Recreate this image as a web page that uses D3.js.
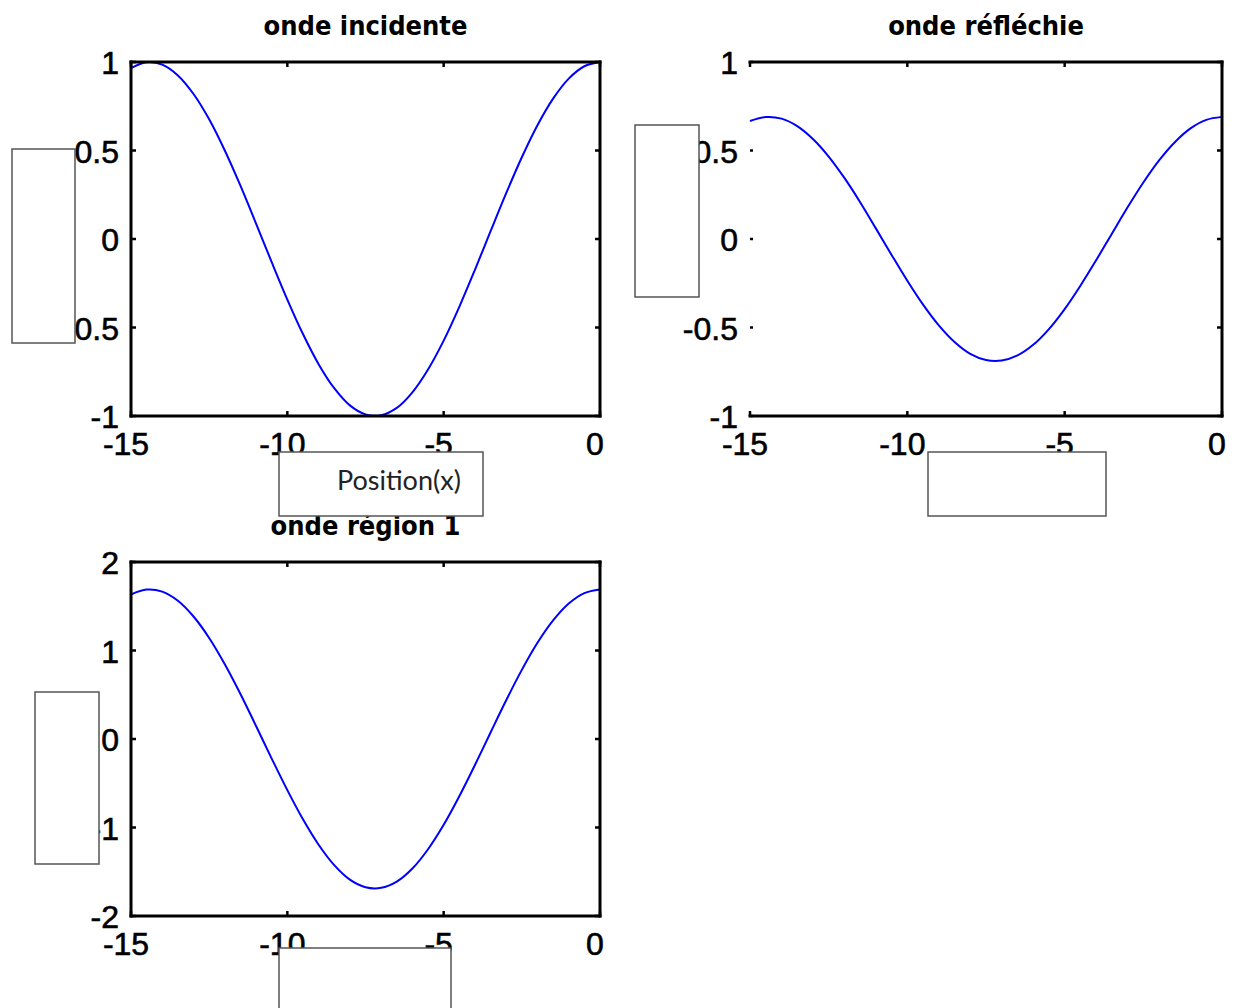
<!DOCTYPE html>
<html>
<head>
<meta charset="utf-8">
<script src="https://cdn.jsdelivr.net/npm/d3@7"></script>
<style>
  html, body { margin: 0; padding: 0; background: #fff; }
  svg { display: block; }
  .tick-label { font-family: "Liberation Sans", Arial, sans-serif; font-size: 32px; fill: #000; stroke: #000; stroke-width: 0.6px; }
  .title { font-family: "DejaVu Sans Condensed", "DejaVu Sans", sans-serif; font-size: 27px; font-weight: bold; fill: #000; }
  .note { font-family: Lato, "Open Sans", sans-serif; font-size: 27px; fill: #222; }
</style>
</head>
<body>
<svg id="fig" width="1242" height="1008"></svg>
<script>
// Position along the axis (x)
const positions = [-15, -14.5, -14, -13.5, -13, -12.5, -12, -11.5, -11, -10.5, -10,
  -9.5, -9, -8.5, -8, -7.5, -7, -6.5, -6, -5.5, -5, -4.5, -4, -3.5, -3, -2.5, -2,
  -1.5, -1, -0.5, 0];

// Incident wave
const incidentWave = [0.966, 0.999, 0.985, 0.924, 0.819, 0.676, 0.500, 0.301, 0.087,
  -0.131, -0.342, -0.537, -0.707, -0.843, -0.940, -0.991, -0.995, -0.954, -0.866,
  -0.737, -0.574, -0.383, -0.174, 0.044, 0.259, 0.462, 0.643, 0.793, 0.906, 0.976, 1.000];

// Reflected wave
const reflectedWave = [0.667, 0.689, 0.680, 0.638, 0.565, 0.466, 0.345, 0.208, 0.060,
  -0.090, -0.236, -0.371, -0.488, -0.582, -0.649, -0.684, -0.687, -0.658, -0.598,
  -0.509, -0.396, -0.264, -0.120, 0.030, 0.179, 0.319, 0.444, 0.547, 0.625, 0.673, 0.690];

// Total wave in region 1
const regionWave = [1.633, 1.688, 1.665, 1.562, 1.384, 1.142, 0.845, 0.509, 0.147,
  -0.221, -0.578, -0.908, -1.195, -1.425, -1.589, -1.675, -1.682, -1.612, -1.464,
  -1.246, -0.970, -0.647, -0.294, 0.074, 0.438, 0.781, 1.087, 1.340, 1.531, 1.649, 1.690];

const xTicks = [-15, -10, -5, 0];
const yTicksUnit = [-1, -0.5, 0, 0.5, 1];
const yTicksRegion = [-2, -1, 0, 1, 2];

const titles = ["onde incidente", "onde réfléchie", "onde région 1"];

const svg = d3.select("#fig");

function panel(opt) {
  const g = svg.append("g");
  const x = d3.scaleLinear().domain([-15, 0]).range([opt.left, opt.right]);
  const y = d3.scaleLinear().domain(opt.yDomain).range([opt.bottom, opt.top]);
  const tickLen = 5;

  // title
  g.append("text").attr("class", "title")
    .attr("x", (opt.left + opt.right) / 2).attr("y", opt.top - 27)
    .attr("text-anchor", "middle").text(opt.title);

  // curve
  const line = d3.line().x((d, i) => x(positions[i])).y(d => y(d))
    .curve(d3.curveCatmullRom.alpha(0.5));
  g.append("path").datum(opt.values)
    .attr("fill", "none").attr("stroke", "#0000ff").attr("stroke-width", 2)
    .attr("d", line);

  // inward ticks on x (top & bottom)
  xTicks.forEach(t => {
    g.append("line").attr("x1", x(t)).attr("x2", x(t))
      .attr("y1", opt.bottom).attr("y2", opt.bottom - tickLen)
      .attr("stroke", "#000").attr("stroke-width", 2.5);
    g.append("line").attr("x1", x(t)).attr("x2", x(t))
      .attr("y1", opt.top).attr("y2", opt.top + tickLen)
      .attr("stroke", "#000").attr("stroke-width", 2.5);
    g.append("text").attr("class", "tick-label")
      .attr("x", x(t) - 5).attr("y", opt.bottom + 39)
      .attr("text-anchor", "middle").text(t);
  });

  // inward ticks on y (left & right)
  opt.yTicks.forEach(t => {
    g.append("line").attr("x1", opt.left).attr("x2", opt.left + (opt.openLeft ? 3 : tickLen))
      .attr("y1", y(t)).attr("y2", y(t))
      .attr("stroke", "#000").attr("stroke-width", 2.5);
    g.append("line").attr("x1", opt.right).attr("x2", opt.right - tickLen)
      .attr("y1", y(t)).attr("y2", y(t))
      .attr("stroke", "#000").attr("stroke-width", 2.5);
    g.append("text").attr("class", "tick-label")
      .attr("x", opt.left - 12).attr("y", y(t) + 12)
      .attr("text-anchor", "end").text(t);
  });

  // axes box
  const frame = g.append("g").attr("stroke", "#000").attr("stroke-width", 3)
    .attr("stroke-linecap", "square");
  frame.append("line").attr("x1", opt.left).attr("x2", opt.right).attr("y1", opt.top).attr("y2", opt.top);
  frame.append("line").attr("x1", opt.left).attr("x2", opt.right).attr("y1", opt.bottom).attr("y2", opt.bottom);
  frame.append("line").attr("x1", opt.right).attr("x2", opt.right).attr("y1", opt.top).attr("y2", opt.bottom);
  if (!opt.openLeft) {
    frame.append("line").attr("x1", opt.left).attr("x2", opt.left).attr("y1", opt.top).attr("y2", opt.bottom);
  }
}

panel({ left: 131, right: 600, top: 62, bottom: 416, yDomain: [-1, 1],
  yTicks: yTicksUnit, values: incidentWave, title: titles[0] });
panel({ left: 750, right: 1222, top: 62, bottom: 416, yDomain: [-1, 1],
  yTicks: yTicksUnit, values: reflectedWave, title: titles[1], openLeft: true });
panel({ left: 131, right: 600, top: 562, bottom: 916, yDomain: [-2, 2],
  yTicks: yTicksRegion, values: regionWave, title: titles[2] });

// label boxes laid over the axes
const boxes = [
  { x: 12, y: 149, w: 63, h: 194, text: "" },
  { x: 279, y: 452, w: 204, h: 64, text: "Position(x)" },
  { x: 635, y: 125, w: 64, h: 172, text: "" },
  { x: 928, y: 452, w: 178, h: 64, text: "" },
  { x: 35, y: 692, w: 64, h: 172, text: "" },
  { x: 279, y: 948, w: 172, h: 70, text: "" }
];
boxes.forEach(b => {
  svg.append("rect").attr("x", b.x).attr("y", b.y).attr("width", b.w).attr("height", b.h)
    .attr("fill", "#fff").attr("stroke", "#555").attr("stroke-width", 1.5);
  if (b.text) {
    svg.append("text").attr("class", "note")
      .attr("x", b.x + 58).attr("y", b.y + 38).text(b.text);
  }
});
</script>
</body>
</html>
